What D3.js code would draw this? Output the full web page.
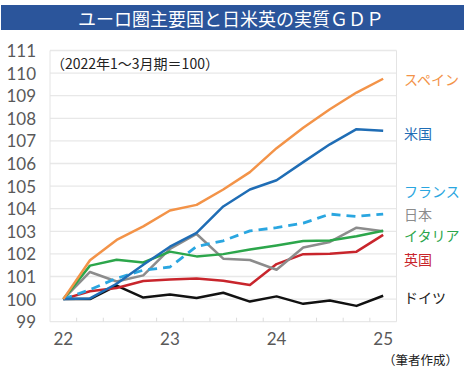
<!DOCTYPE html>
<html>
<head>
<meta charset="utf-8">
<script src="https://cdn.jsdelivr.net/npm/d3@7"></script>
<style>
  body { margin: 0; background: #fff; }
  svg { display: block; font-family: "Noto Sans CJK JP", "Noto Sans", sans-serif; }
</style>
</head>
<body>
<div id="chart"></div>
<script>
// quarters 2022Q1 .. 2025Q1
const quarters = ["22Q1","22Q2","22Q3","22Q4","23Q1","23Q2","23Q3","23Q4","24Q1","24Q2","24Q3","24Q4","25Q1"];
const xTickValues = ["22Q1","23Q1","24Q1","25Q1"];
const xTickLabels = ["22","23","24","25"];
const yTicks = [99,100,101,102,103,104,105,106,107,108,109,110,111];

const spain   = [100, 101.72, 102.62, 103.22, 103.92, 104.17, 104.85, 105.62, 106.68, 107.58, 108.40, 109.14, 109.75];
const us      = [100, 100.03, 100.68, 101.52, 102.32, 102.93, 104.10, 104.85, 105.26, 106.06, 106.85, 107.52, 107.45];
const france  = [100, 100.42, 100.92, 101.28, 101.42, 102.33, 102.58, 103.02, 103.16, 103.36, 103.76, 103.66, 103.76];
const japan   = [100, 101.20, 100.78, 101.05, 102.22, 102.88, 101.79, 101.73, 101.30, 102.28, 102.53, 103.16, 103.00];
const italy   = [100, 101.48, 101.74, 101.62, 102.10, 101.89, 101.99, 102.19, 102.37, 102.57, 102.59, 102.78, 103.02];
const uk      = [100, 100.35, 100.49, 100.80, 100.87, 100.91, 100.81, 100.62, 101.55, 101.99, 102.01, 102.10, 102.84];
const germany = [100, 100.00, 100.60, 100.07, 100.20, 100.05, 100.28, 99.89, 100.12, 99.79, 99.94, 99.70, 100.15];

const seriesNames = ["ドイツ","英国","日本","イタリア","フランス","米国","スペイン"];
const seriesValues = [germany, uk, japan, italy, france, us, spain];
const seriesColors = ["#111111","#c8252c","#8c8c8c","#2ca64b","#2aa6e0","#1f6db5","#f39348"];
const labelY = [297, 259, 214, 235, 191, 133, 79];

const width = 465, height = 371;
const svg = d3.select("#chart").append("svg")
    .attr("width", width)
    .attr("height", height);

// title bar
svg.append("rect")
    .attr("x", 1).attr("y", 5)
    .attr("width", 463).attr("height", 25)
    .attr("fill", "#2b559b");
svg.append("text")
    .attr("x", 231).attr("y", 18)
    .attr("dominant-baseline", "central")
    .attr("text-anchor", "middle")
    .attr("fill", "#fff")
    .style("font-size", "18px")
    .text("ユーロ圏主要国と日米英の実質ＧＤＰ");

let x = d3.scaleBand()
    .domain(quarters)
    .range([50, 396.5]);

let y = d3.scaleLinear()
    .domain([99, 111])
    .range([321.7, 50.5]);

// gridlines
svg.append("g").selectAll("line")
    .data(yTicks)
    .enter()
    .append("line")
    .attr("x1", 50).attr("x2", 396.5)
    .attr("y1", d => y(d)).attr("y2", d => y(d))
    .attr("stroke", "#e8e8e8")
    .attr("stroke-width", 1.3);

// left / right borders
svg.append("line")
    .attr("x1", 50).attr("x2", 50)
    .attr("y1", y(111)).attr("y2", y(99))
    .attr("stroke", "#e4e4e4");
svg.append("line")
    .attr("x1", 396.5).attr("x2", 396.5)
    .attr("y1", y(111)).attr("y2", y(99))
    .attr("stroke", "#e4e4e4");

// quarter boundary ticks
svg.append("g").selectAll("line")
    .data(quarters.slice(1))
    .enter()
    .append("line")
    .attr("x1", d => x(d)).attr("x2", d => x(d))
    .attr("y1", y(99) - 4).attr("y2", y(99))
    .attr("stroke", "#dcdcdc");

// y axis
let yAxis = svg.append("g")
    .attr("transform", "translate(36,0)")
    .call(d3.axisLeft(y).tickValues(yTicks).tickSize(0).tickPadding(0));
yAxis.select(".domain").remove();
yAxis.selectAll("text")
    .attr("fill", "#595959")
    .style("font-family", "Lato, sans-serif")
    .style("font-size", "17px")
    .attr("dy", "0.35em");

// x axis
let xAxis = svg.append("g")
    .attr("transform", `translate(0, ${y(99)})`)
    .call(d3.axisBottom(x)
        .tickValues(xTickValues)
        .tickFormat((d, i) => xTickLabels[i])
        .tickSize(0).tickPadding(0));
xAxis.select(".domain").remove();
xAxis.selectAll("text")
    .attr("fill", "#595959")
    .style("font-family", "Lato, sans-serif")
    .style("font-size", "17px")
    .attr("y", 17)
    .attr("dy", "0.35em");

// lines
let line = d3.line()
    .x((d, i) => x(quarters[i]) + x.bandwidth() / 2)
    .y(d => y(d));

seriesValues.forEach(function(vals, k) {
    svg.append("path")
        .datum(vals)
        .attr("fill", "none")
        .attr("stroke", seriesColors[k])
        .attr("stroke-width", k == 4 ? 2.8 : 2.5)
        .attr("stroke-linejoin", "round")
        .attr("stroke-dasharray", k == 4 ? "9,6" : null)
        .attr("d", line);
});

// series labels on the right
svg.append("g").selectAll("text")
    .data(seriesNames)
    .enter()
    .append("text")
    .attr("x", 404)
    .attr("y", (d, i) => labelY[i])
    .attr("dominant-baseline", "central")
    .attr("fill", (d, i) => seriesColors[i] == "#111111" ? "#222" : seriesColors[i])
    .style("font-size", "14px")
    .text(d => d);

// note inside plot
svg.append("text")
    .attr("x", 51).attr("y", 63)
    .attr("dominant-baseline", "central")
    .attr("fill", "#222")
    .style("font-size", "14px")
    .text("（2022年1～3月期＝100）");

// source
svg.append("text")
    .attr("x", 458).attr("y", 359)
    .attr("dominant-baseline", "central")
    .attr("text-anchor", "end")
    .attr("fill", "#222")
    .style("font-size", "12.5px")
    .text("（筆者作成）");
</script>
</body>
</html>
